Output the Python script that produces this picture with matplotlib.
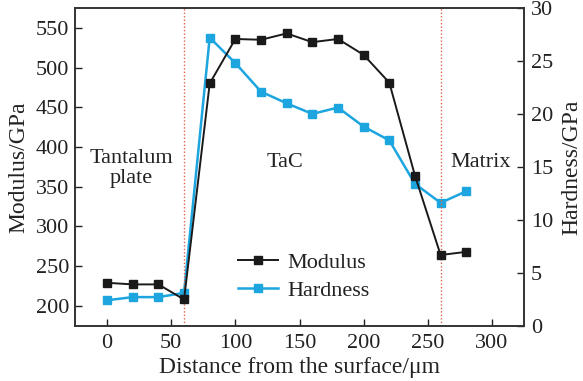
import matplotlib
matplotlib.use("Agg")
import matplotlib.pyplot as plt

distance = [0, 20, 40, 60, 80, 100, 120, 140, 160, 180, 200, 220, 240, 260, 280]
modulus = [229, 227, 227, 208, 480, 536, 535, 543, 532, 536, 516, 481, 364, 264, 268]
hardness = [2.4, 2.7, 2.7, 3.1, 27.2, 24.8, 22.1, 21.0, 20.0, 20.6, 18.8, 17.5, 13.4, 11.6, 12.7]
boundaries = [60, 260]
region_labels = ["Tantalum\nplate", "TaC", "Matrix"]

plt.rcParams['font.family'] = ['Liberation Serif', 'DejaVu Serif']

fig = plt.figure(figsize=(5.83, 3.81), dpi=100)
ax = fig.add_axes([75/583, 1 - 325.7/381, (524-75)/583, (325.7-8)/381])
ax2 = ax.twinx()

black = '#1a1a1a'
cyan = '#1ca5df'
txt = '#222222'

l1, = ax.plot(distance, modulus, color=black, marker='s', markersize=6, lw=1.4, label='Modulus', zorder=3)
l2, = ax2.plot(distance, hardness, color=cyan, marker='s', markersize=6, lw=1.8, label='Hardness', zorder=2)

for b in boundaries:
    ax.axvline(b, color='#e0634a', ls=(0, (1, 1.5)), lw=1.0, zorder=1)

ax.set_xlim(-25, 325)
ax.set_ylim(175, 575)
ax2.set_ylim(0, 30)
ax.set_xticks([0, 50, 100, 150, 200, 250, 300])
ax.set_yticks([200, 250, 300, 350, 400, 450, 500, 550])
ax2.set_yticks([0, 5, 10, 15, 20, 25, 30])

fs = 16
for a in (ax, ax2):
    a.tick_params(direction='in', length=5, width=1, labelsize=fs, colors=txt)
    for s in a.spines.values():
        s.set_color('#333333')
        s.set_linewidth(1.2)
ax.tick_params(axis='x', pad=6)
ax.tick_params(axis='y', pad=4)
ax2.tick_params(axis='y', pad=5)

ax.set_xlabel('Distance from the surface/μm', fontsize=17, labelpad=3, color=txt)
ax.set_ylabel('Modulus/GPa', fontsize=17, labelpad=5, color=txt)
ax2.set_ylabel('Hardness/GPa', fontsize=17, labelpad=6, color=txt)

ax.text(19, 373, region_labels[0], fontsize=fs, ha='center', va='center', color=txt, linespacing=1.1)
ax.text(139, 380, region_labels[1], fontsize=fs, ha='center', va='center', color=txt)
ax.text(291, 380, region_labels[2], fontsize=fs, ha='center', va='center', color=txt)

ax.set_zorder(ax2.get_zorder() + 1)
ax.patch.set_visible(False)

leg = ax.legend([l1, l2], ['Modulus', 'Hardness'], loc='center left',
                bbox_to_anchor=(0.363, 0.155), frameon=False, fontsize=fs,
                handlelength=1.8, handletextpad=0.4, labelspacing=0.35, borderpad=0,
                borderaxespad=0)
for t in leg.get_texts():
    t.set_color(txt)

fig.savefig('out.png', dpi=100)
